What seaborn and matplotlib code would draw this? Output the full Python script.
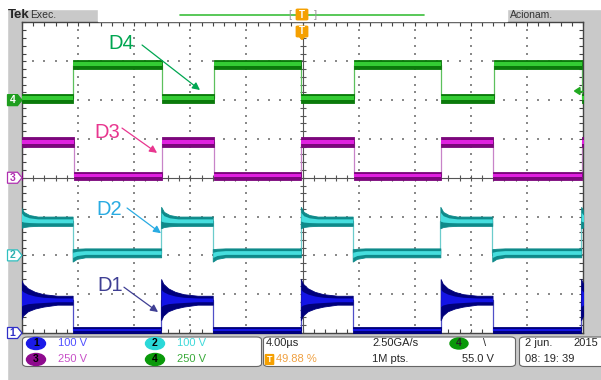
import numpy as np
import pandas as pd
import matplotlib
matplotlib.use("Agg")
import matplotlib.pyplot as plt
from matplotlib.patches import Rectangle, FancyBboxPatch, Polygon, Ellipse
from matplotlib.lines import Line2D
from matplotlib.ticker import MultipleLocator
import seaborn as sns

# ---------------- data ----------------
us_per_div = 4.0
x_span_us = 40.0
channels = ["D4", "D3", "D2", "D1"]
ground_div = [2, 0, -2, -4]

# transition times (µs) ; first edge is just before the screen start
d4_edges = [-0.05, 3.66, 9.95, 13.68, 19.90, 23.66, 29.85, 33.63, 39.90]
d3_edges = [-0.02, 3.68, 9.98, 13.66, 19.92, 23.64, 29.88, 33.58, 39.90]
d2_edges = [-0.08, 3.61, 9.92, 13.60, 19.88, 23.58, 29.83, 33.53, 39.87]
d1_edges = [-0.08, 3.61, 9.92, 13.60, 19.88, 23.58, 29.85, 33.55, 39.86]
d4_start_high = True
d3_start_high = False
d2_start_high = False
d1_start_high = False

# band (bottom, top) in divisions above each trace's ground
d4_high_band = (0.80, 1.03)
d4_low_band = (-0.07, 0.16)
d3_high_band = (0.78, 1.05)
d3_low_band = (-0.05, 0.14)
d2_high_band = (0.76, 1.00)
d2_low_band = (-0.05, 0.18)
d1_high_band = (0.73, 0.96)
d1_low_band = (-0.02, 0.16)

# ringing after rising edges (µs after edge, top, bottom)
d1_ring_t = [0.0, 0.15, 0.5, 1.0, 1.6, 2.6]
d1_ring_top = [1.39, 1.27, 1.15, 1.06, 1.00, 0.96]
d1_ring_bot = [0.33, 0.45, 0.56, 0.63, 0.68, 0.73]
d2_ring_t = [0.0, 0.2, 0.6, 1.2]
d2_ring_top = [1.25, 1.12, 1.04, 1.00]
d2_ring_bot = [0.70, 0.73, 0.75, 0.76]
# dip after falling edges of D2
d2_dip_t = [0.0, 0.3, 0.9, 1.6]
d2_dip_top = [0.16, 0.17, 0.18, 0.18]
d2_dip_bot = [-0.16, -0.09, -0.05, -0.05]

trace_dark = ["#0b7a0b", "#7c067c", "#0e8a8a", "#00007c"]
trace_bright = ["#34cc34", "#e020e0", "#46dede", "#1414e6"]
trace_edge = ["#5cc05c", "#c884c8", "#6ccccc", "#5050c8"]

label_colors = ["#00a651", "#e8368f", "#29abe2", "#3f3f94"]
label_text_xy = [(7.09, 3.45), (6.10, 1.17), (6.20, -0.82), (6.31, -2.78)]
arrow_tail = [(8.56, 3.42), (7.13, 1.28), (7.49, -0.78), (7.27, -2.82)]
arrow_head = [(12.69, 2.26), (9.63, 0.64), (9.91, -1.43), (9.70, -3.46)]

scale_labels = ["100 V", "100 V", "250 V", "250 V"]
timebase_label = "4.00µs"
trigger_pos_label = "49.88 %"
sample_rate_label = "2.50GA/s"
record_label = "1M pts."
trigger_level_label = "55.0 V"
date_label = "2 jun."
year_label = "2015"
time_label = "08: 19: 39"

# ---------------- figure ----------------
sns.set_style("white")
plt.rcParams["font.family"] = ["Liberation Sans", "DejaVu Sans"]

W, H = 601, 380
fig = plt.figure(figsize=(W / 100, H / 100), dpi=100)
fig.patch.set_facecolor("#c9c9c9")


def fx(px):
    return px / W


def fy(py):
    return 1 - py / H


TF = fig.transFigure
fig.add_artist(Rectangle((0, 0), fx(7), 1, transform=TF, color="white", zorder=-2))
fig.add_artist(Rectangle((0, fy(9)), 1, 9 / H, transform=TF, color="white", zorder=-2))

ax = fig.add_axes([fx(22), fy(333), fx(583) - fx(22), (333 - 22.5) / H])
ax.set_xlim(0, x_span_us)
ax.set_ylim(-4, 4)
ax.set_facecolor("white")

# grid dots
major_x = [v for v in np.arange(0, 40.01, us_per_div) if v not in (0, 20, 40)]
minor_y = np.arange(-4, 4.001, 0.2)
gx = np.repeat(major_x, len(minor_y))
gy = np.tile(minor_y, len(major_x))
major_y = [v for v in range(-3, 4) if v != 0]
minor_x = np.arange(0, 40.001, 0.8)
gx2 = np.tile(minor_x, len(major_y))
gy2 = np.repeat(major_y, len(minor_x))
ax.scatter(np.concatenate([gx, gx2]), np.concatenate([gy, gy2]), s=1.6, marker="s",
           color="#8a8a8a", linewidths=0, zorder=1)

# center cross lines with ticks
ax.axhline(0, color="#555555", lw=0.8, zorder=1.5)
ax.axvline(20, color="#555555", lw=0.8, zorder=1.5)
ax.scatter(np.full(len(minor_y), 20.0), minor_y, marker="_", s=14, color="#555555",
           linewidths=0.8, zorder=1.5)
ax.scatter(minor_x, np.zeros(len(minor_x)), marker="|", s=14, color="#555555",
           linewidths=0.8, zorder=1.5)


def segments(edges, start_high):
    bounds = [-0.5] + list(edges) + [40.5]
    segs = []
    state = start_high
    for i, (a, b) in enumerate(zip(bounds[:-1], bounds[1:])):
        segs.append((a, b, state, i > 0))
        state = not state
    return segs


chan_data = [
    (d4_edges, d4_start_high, d4_high_band, d4_low_band, None, None),
    (d3_edges, d3_start_high, d3_high_band, d3_low_band, None, None),
    (d2_edges, d2_start_high, d2_high_band, d2_low_band,
     (d2_ring_t, d2_ring_top, d2_ring_bot), (d2_dip_t, d2_dip_top, d2_dip_bot)),
    (d1_edges, d1_start_high, d1_high_band, d1_low_band,
     (d1_ring_t, d1_ring_top, d1_ring_bot), None),
]

for ci, (edges, start_high, hb, lb, ring, dip) in enumerate(chan_data):
    g = ground_div[ci]
    segs = segments(edges, start_high)
    # thin step trace (transitions)
    xs, ys = [], []
    for a, b, high, _ in segs:
        band = hb if high else lb
        xs.append(a)
        ys.append(g + (band[0] + band[1]) / 2)
    xs.append(segs[-1][1])
    ys.append(ys[-1])
    df = pd.DataFrame({"t": xs, "v": ys})
    sns.lineplot(data=df, x="t", y="v", ax=ax, drawstyle="steps-post", estimator=None,
                 sort=False, color=trace_edge[ci], lw=0.9, zorder=2)
    # bands
    for a, b, high, after_edge in segs:
        band = hb if high else lb
        env = ring if high else dip
        t, top, bot = [], [], []
        if after_edge and env is not None:
            for d, up, dn in zip(*env):
                if a + d < b:
                    t.append(a + d)
                    top.append(up)
                    bot.append(dn)
        else:
            t.append(a)
            top.append(band[1])
            bot.append(band[0])
        t.append(b)
        top.append(band[1])
        bot.append(band[0])
        t = np.array(t)
        top = np.array(top) + g
        bot = np.array(bot) + g
        thick = top - bot
        ax.fill_between(t, bot, top, facecolor=trace_dark[ci], edgecolor=trace_dark[ci],
                        lw=0.6, zorder=3)
        ax.fill_between(t, bot + 0.33 * thick, top - 0.25 * thick, facecolor=trace_bright[ci],
                        lw=0, zorder=3.1)

# frame and ticks
for sp in ax.spines.values():
    sp.set_color("#444444")
    sp.set_linewidth(1)
    sp.set_visible(True)
ax.xaxis.set_major_locator(MultipleLocator(us_per_div))
ax.xaxis.set_minor_locator(MultipleLocator(0.8))
ax.yaxis.set_major_locator(MultipleLocator(1))
ax.yaxis.set_minor_locator(MultipleLocator(0.2))
ax.tick_params(which="both", direction="in", length=3, width=0.8, color="#444444",
               top=True, right=True, bottom=True, left=True,
               labelbottom=False, labelleft=False)
ax.set_xlabel("")
ax.set_ylabel("")
ax.grid(False)

# labels + arrows
for i, name in enumerate(channels):
    ax.text(*label_text_xy[i], name, color=label_colors[i], fontsize=14.5,
            ha="center", va="center", zorder=6)
    ax.annotate("", xy=arrow_head[i], xytext=arrow_tail[i],
                arrowprops=dict(arrowstyle="-|>", color=label_colors[i], lw=0.9,
                                mutation_scale=11, shrinkA=0, shrinkB=0), zorder=6)

# ---------------- oscilloscope decorations ----------------
# top bar
fig.add_artist(Rectangle((fx(98), fy(21)), fx(507) - fx(98), 12 / H, transform=TF,
                         color="white", zorder=1))
fig.text(fx(7.5), fy(15), "Tek", fontsize=9.5, weight="bold", va="center", zorder=2)
fig.text(fx(30), fy(15), "Exec.", fontsize=7.5, color="#333333", va="center", zorder=2)
fig.text(fx(510), fy(15), "Acionam.", fontsize=7.5, color="#333333", va="center", zorder=2)
fig.add_artist(Line2D([fx(180), fx(424)], [fy(14.5), fy(14.5)], transform=TF,
                      color="#3cbf3c", lw=1.2, zorder=2))
fig.text(fx(290), fy(14.5), "[", fontsize=8, color="#999999", ha="center", va="center", zorder=2)
fig.text(fx(315), fy(14.5), "]", fontsize=8, color="#999999", ha="center", va="center", zorder=2)
for yc in (14.5, 31.5):
    fig.add_artist(FancyBboxPatch((fx(297.5), fy(yc + 4.5)), 9 / W, 9 / H,
                                  boxstyle="round,pad=0.002", transform=TF,
                                  facecolor="#f5a000", edgecolor="#f5a000", zorder=4))
    fig.text(fx(302), fy(yc), "T", fontsize=7, color="white", weight="bold",
             ha="center", va="center", zorder=5)
fig.add_artist(Polygon([(fx(299), fy(36)), (fx(305), fy(36)), (fx(302), fy(39.5))],
                       transform=TF, color="#f5a000", zorder=4))

# channel ground tags on the left
tag_fill = ["#1f9e1f", "white", "white", "white"]
tag_edge = ["#1f9e1f", "#b030b0", "#30c0c0", "#3030c8"]
tag_text = ["white", "#b030b0", "#30b0b0", "#3030c8"]
tag_num = ["4", "3", "2", "1"]
for i in range(4):
    yc = 22.5 + (4 - ground_div[i]) * (333 - 22.5) / 8
    pts = [(fx(7.5), fy(yc - 5.5)), (fx(17.5), fy(yc - 5.5)), (fx(22), fy(yc)),
           (fx(17.5), fy(yc + 5.5)), (fx(7.5), fy(yc + 5.5))]
    fig.add_artist(Polygon(pts, closed=True, transform=TF, facecolor=tag_fill[i],
                           edgecolor=tag_edge[i], lw=0.9, zorder=5))
    fig.text(fx(12.5), fy(yc), tag_num[i], fontsize=7.5, color=tag_text[i], weight="bold",
             ha="center", va="center", zorder=6)

# trigger level marker (right)
fig.add_artist(Polygon([(fx(574.5), fy(91)), (fx(580), fy(87.5)), (fx(580), fy(94.5))],
                       transform=TF, color="#22aa22", zorder=5))
fig.add_artist(Line2D([fx(578), fx(583)], [fy(91), fy(91)], transform=TF,
                      color="#22aa22", lw=1, zorder=5))

# bottom info boxes
for x0, x1 in ((22.5, 261.5), (263.5, 515.5), (519.5, 606)):
    fig.add_artist(FancyBboxPatch((fx(x0), fy(366.5)), (x1 - x0) / W, 29.5 / H,
                                  boxstyle="round,pad=0,rounding_size=0.008", transform=TF,
                                  facecolor="white", edgecolor="#666666", lw=0.8, zorder=1))

row1, row2 = 343.5, 359.5
badge_colors = ["#1a1ae8", "#2ad8d8", "#8e0a8e", "#0a990a"]
badge_xy = [(36, row1), (155, row1), (36, row2), (155, row2)]
scale_colors = ["#5050ff", "#40dada", "#c850c8", "#3aaa3a"]
for i in range(4):
    bx, by = badge_xy[i]
    fig.add_artist(Ellipse((fx(bx), fy(by)), 19 / W, 12 / H, transform=TF,
                           color=badge_colors[i], zorder=2))
    fig.text(fx(bx), fy(by), str(i + 1), fontsize=7.5, weight="bold", color="black",
             ha="center", va="center", zorder=3)
    fig.text(fx(bx + 22), fy(by), scale_labels[i], fontsize=8, color=scale_colors[i],
             va="center", zorder=3)

fig.text(fx(266), fy(row1), timebase_label, fontsize=8, va="center", zorder=3)
fig.add_artist(FancyBboxPatch((fx(266), fy(row2 + 4.5)), 7 / W, 9 / H,
                              boxstyle="round,pad=0.001", transform=TF,
                              facecolor="#f5a000", edgecolor="#f5a000", zorder=2))
fig.text(fx(269.5), fy(row2), "T", fontsize=6.5, color="white", weight="bold",
         ha="center", va="center", zorder=3)
fig.text(fx(276), fy(row2), trigger_pos_label, fontsize=8, color="#f0a040",
         va="center", zorder=3)
fig.text(fx(372), fy(row1), sample_rate_label, fontsize=8, va="center", zorder=3)
fig.text(fx(372), fy(row2), record_label, fontsize=8, va="center", zorder=3)
fig.add_artist(Ellipse((fx(459), fy(row1)), 18 / W, 11 / H, transform=TF,
                       color="#0a990a", zorder=2))
fig.text(fx(459), fy(row1), "4", fontsize=7.5, weight="bold", ha="center", va="center", zorder=3)
fig.text(fx(485), fy(row1), "\\", fontsize=8, ha="center", va="center", zorder=3)
fig.text(fx(494), fy(row2), trigger_level_label, fontsize=8, ha="right", va="center", zorder=3)
fig.text(fx(525), fy(row1), date_label, fontsize=8, va="center", zorder=3)
fig.text(fx(598), fy(row1), year_label, fontsize=8, ha="right", va="center", zorder=3)
fig.text(fx(525), fy(row2), time_label, fontsize=8, va="center", zorder=3)

fig.savefig("out.png", dpi=100, facecolor=fig.get_facecolor())
